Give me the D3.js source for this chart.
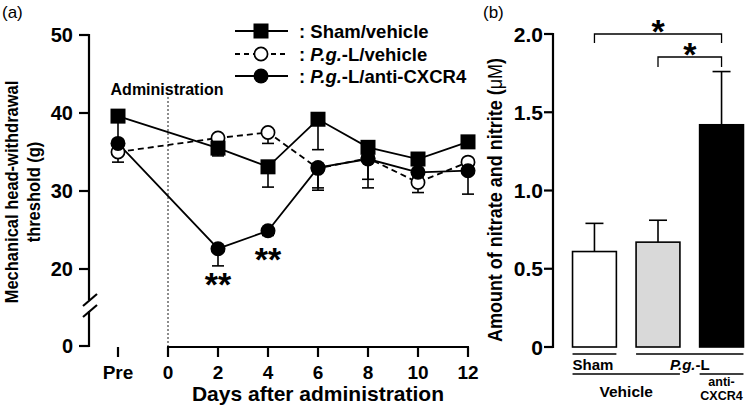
<!DOCTYPE html>
<html><head><meta charset="utf-8">
<script src="https://cdn.jsdelivr.net/npm/d3@7"></script>
<style>
body{margin:0;background:#fff;}
svg text{font-family:"Liberation Sans",Arial,sans-serif;}
</style></head>
<body><svg id="c" width="749" height="409"></svg>
<script>
// ---- Panel (a) data ----
const days = [-2, 2, 4, 6, 8, 10, 12];
const xTickValues = [-2, 0, 2, 4, 6, 8, 10, 12];
const xTickLabels = ["Pre", "0", "2", "4", "6", "8", "10", "12"];
const yTickValues = [0, 20, 30, 40, 50];
const shamVehicle = [39.6, 35.5, 33.1, 39.2, 35.6, 34.1, 36.3];
const shamVehicleErr = [3.3, 1.0, 2.6, 3.9, 0.5, 0.5, 0.5];
const pgVehicle = [35.0, 36.8, 37.5, 32.9, 34.2, 31.1, 33.7];
const pgVehicleErr = [1.3, 0.5, 1.4, 2.8, 3.8, 1.3, 0.6];
const pgAntiCXCR4 = [36.1, 22.6, 24.9, 33.0, 34.1, 32.4, 32.6];
const pgAntiCXCR4Err = [0.6, 2.2, 0.6, 2.6, 2.6, 0.6, 3.0];

// ---- Panel (b) data ----
const groups = ["Sham", "PgVehicle", "PgAnti"];
const nitrite = [0.61, 0.67, 1.42];
const nitriteErr = [0.18, 0.14, 0.34];
const yTicksB = [0, 0.5, 1.0, 1.5, 2.0];
const yTickLabelsB = ["0", "0.5", "1.0", "1.5", "2.0"];
const barFills = ["#ffffff", "#d9d9d9", "#000000"];

const svg = d3.select("#c");

// ================= Panel (a) =================
const x = d3.scaleLinear().domain([-2, 12]).range([118, 468]);
const y = d3.scaleLinear().domain([0, 20, 50]).range([346, 269, 35]);
const ga = svg.append("g");

ga.append("text").attr("x", 2).attr("y", 18).attr("font-size", 17).text("(a)");

// y axis with break
const axX = 89;
ga.append("line").attr("x1", axX).attr("x2", axX).attr("y1", y(50) - 1).attr("y2", 300).attr("stroke", "#000").attr("stroke-width", 2.2);
ga.append("line").attr("x1", axX).attr("x2", axX).attr("y1", 311).attr("y2", y(0) + 1).attr("stroke", "#000").attr("stroke-width", 2.2);
[[83, 306, 97, 294], [83, 317, 97, 305]].forEach(s => {
  ga.append("line").attr("x1", s[0]).attr("y1", s[1]).attr("x2", s[2]).attr("y2", s[3]).attr("stroke", "#000").attr("stroke-width", 2.2);
});
yTickValues.forEach(v => {
  ga.append("line").attr("x1", axX - 10).attr("x2", axX).attr("y1", y(v)).attr("y2", y(v)).attr("stroke", "#000").attr("stroke-width", 2.2);
  ga.append("text").attr("x", axX - 16).attr("y", y(v)).attr("dy", "0.36em").attr("text-anchor", "end")
    .attr("font-size", 20).attr("font-weight", "bold").text(v);
});
ga.append("text").attr("transform", "translate(18,192) scale(1.12,1) rotate(-90)").attr("text-anchor", "middle")
  .attr("font-size", 16.5).attr("font-weight", "bold").text("Mechanical head-withdrawal");
ga.append("text").attr("transform", "translate(40,192) scale(1.12,1) rotate(-90)").attr("text-anchor", "middle")
  .attr("font-size", 16.5).attr("font-weight", "bold").text("threshold (g)");

// x axis
ga.append("line").attr("x1", x(0) - 1).attr("x2", x(12) + 1).attr("y1", 347).attr("y2", 347).attr("stroke", "#000").attr("stroke-width", 2.2);
xTickValues.forEach((v, i) => {
  ga.append("line").attr("x1", x(v)).attr("x2", x(v)).attr("y1", 347).attr("y2", 357).attr("stroke", "#000").attr("stroke-width", 2.2);
  ga.append("text").attr("x", x(v)).attr("y", 379).attr("text-anchor", "middle")
    .attr("font-size", 19).attr("font-weight", "bold").text(xTickLabels[i]);
});
ga.append("text").attr("x", 318).attr("y", 401).attr("text-anchor", "middle")
  .attr("font-size", 21).attr("font-weight", "bold").text("Days after administration");

// administration line
ga.append("line").attr("x1", x(0)).attr("x2", x(0)).attr("y1", 97).attr("y2", 347).attr("stroke", "#000").attr("stroke-width", 0.9).attr("stroke-dasharray", "2,2");
ga.append("text").attr("x", 167).attr("y", 95).attr("text-anchor", "middle").attr("font-size", 16).attr("font-weight", "bold").text("Administration");

const series = [
  {vals: pgVehicle, err: pgVehicleErr, marker: "open", dash: "6,4"},
  {vals: pgAntiCXCR4, err: pgAntiCXCR4Err, marker: "filled", dash: null},
  {vals: shamVehicle, err: shamVehicleErr, marker: "square", dash: null}
];
const line = d3.line().x(d => x(d[0])).y(d => y(d[1]));
series.forEach(s => {
  const pts = days.map((d, i) => [d, s.vals[i], s.err[i]]);
  pts.forEach(p => {
    ga.append("line").attr("x1", x(p[0])).attr("x2", x(p[0])).attr("y1", y(p[1])).attr("y2", y(p[1] - p[2])).attr("stroke", "#000").attr("stroke-width", 1.6);
    ga.append("line").attr("x1", x(p[0]) - 6).attr("x2", x(p[0]) + 6).attr("y1", y(p[1] - p[2])).attr("y2", y(p[1] - p[2])).attr("stroke", "#000").attr("stroke-width", 1.6);
  });
  ga.append("path").attr("d", line(pts)).attr("fill", "none").attr("stroke", "#000").attr("stroke-width", 1.8)
    .attr("stroke-dasharray", s.dash);
});
function marker(g, type, cx, cy) {
  if (type === "square") g.append("rect").attr("x", cx - 7.5).attr("y", cy - 7.5).attr("width", 15).attr("height", 15).attr("fill", "#000");
  else if (type === "filled") g.append("circle").attr("cx", cx).attr("cy", cy).attr("r", 7.5).attr("fill", "#000");
  else g.append("circle").attr("cx", cx).attr("cy", cy).attr("r", 6.6).attr("fill", "#fff").attr("stroke", "#000").attr("stroke-width", 1.7);
}
series.forEach(s => days.forEach((d, i) => marker(ga, s.marker, x(d), y(s.vals[i]))));

// significance
ga.append("text").attr("x", x(2)).attr("y", 296).attr("text-anchor", "middle").attr("font-family", "DejaVu Sans").attr("font-size", 34).attr("font-weight", "bold").text("**");
ga.append("text").attr("x", x(4)).attr("y", 271).attr("text-anchor", "middle").attr("font-family", "DejaVu Sans").attr("font-size", 34).attr("font-weight", "bold").text("**");

// legend
const legRows = [
  {y: 31, marker: "square", dash: null, parts: [[": Sham/vehicle", false]]},
  {y: 54, marker: "open", dash: "5,4", parts: [[": ", false], ["P.g.", true], ["-L/vehicle", false]]},
  {y: 76, marker: "filled", dash: null, parts: [[": ", false], ["P.g.", true], ["-L/anti-CXCR4", false]]}
];
legRows.forEach(r => {
  ga.append("line").attr("x1", 235).attr("x2", 288).attr("y1", r.y).attr("y2", r.y).attr("stroke", "#000").attr("stroke-width", 1.8).attr("stroke-dasharray", r.dash);
  marker(ga, r.marker, 261, r.y);
  const t = ga.append("text").attr("x", 299).attr("y", r.y).attr("dy", "0.36em").attr("font-size", 18.5).attr("font-weight", "bold");
  r.parts.forEach(p => t.append("tspan").attr("font-style", p[1] ? "italic" : null).text(p[0]));
});

// ================= Panel (b) =================
const gb = svg.append("g");
const xb = d3.scaleBand().domain(groups).range([563, 753]).paddingInner(0.31).paddingOuter(0.15);
const yb = d3.scaleLinear().domain([0, 2]).range([347, 34]);
gb.append("text").attr("x", 483).attr("y", 18).attr("font-size", 17).text("(b)");

const bx = 553;
gb.append("line").attr("x1", bx).attr("x2", bx).attr("y1", yb(2) - 1).attr("y2", yb(0) + 1).attr("stroke", "#000").attr("stroke-width", 2.2);
yTicksB.forEach((v, i) => {
  gb.append("line").attr("x1", bx - 9).attr("x2", bx).attr("y1", yb(v)).attr("y2", yb(v)).attr("stroke", "#000").attr("stroke-width", 2.2);
  gb.append("text").attr("x", bx - 10).attr("y", yb(v)).attr("dy", "0.36em").attr("text-anchor", "end")
    .attr("font-size", 21).attr("font-weight", "bold").text(yTickLabelsB[i]);
});
const ttl = gb.append("text").attr("transform", "translate(502,200) scale(1.1,1) rotate(-90)").attr("text-anchor", "middle")
  .attr("font-size", 18).attr("font-weight", "bold");
ttl.append("tspan").text("Amount of nitrate and nitrite (");
ttl.append("tspan").attr("font-weight", "normal").text("μM");
ttl.append("tspan").text(")");

groups.forEach((g, i) => {
  const cx = xb(g) + xb.bandwidth() / 2;
  gb.append("line").attr("x1", cx).attr("x2", cx).attr("y1", yb(nitrite[i])).attr("y2", yb(nitrite[i] + nitriteErr[i])).attr("stroke", "#000").attr("stroke-width", 1.6);
  gb.append("line").attr("x1", cx - 9).attr("x2", cx + 9).attr("y1", yb(nitrite[i] + nitriteErr[i])).attr("y2", yb(nitrite[i] + nitriteErr[i])).attr("stroke", "#000").attr("stroke-width", 1.6);
  gb.append("rect").attr("x", xb(g)).attr("y", yb(nitrite[i])).attr("width", xb.bandwidth()).attr("height", yb(0) - yb(nitrite[i]))
    .attr("fill", barFills[i]).attr("stroke", "#000").attr("stroke-width", 1.6);
});
// brackets
function bracket(g1, g2, yTop, yDown) {
  const x1 = xb(g1) + xb.bandwidth() / 2, x2 = xb(g2) + xb.bandwidth() / 2;
  gb.append("path").attr("d", `M${x1},${yDown}V${yTop}H${x2}V${yDown}`).attr("fill", "none").attr("stroke", "#000").attr("stroke-width", 1.3);
  gb.append("text").attr("x", (x1 + x2) / 2).attr("y", yTop + 9).attr("text-anchor", "middle").attr("font-family", "DejaVu Sans").attr("font-size", 34).attr("font-weight", "bold").text("*");
}
bracket("Sham", "PgAnti", 34, 43);
bracket("PgVehicle", "PgAnti", 57, 67);

// group labels under bars
const L = (x1, x2, yy) => gb.append("line").attr("x1", x1).attr("x2", x2).attr("y1", yy).attr("y2", yy).attr("stroke", "#000").attr("stroke-width", 1.3);
const bl = g => xb(g), br = g => xb(g) + xb.bandwidth();
L(bl("Sham"), br("Sham"), 354);
L(bl("PgVehicle"), br("PgAnti"), 354);
L(bl("Sham"), br("PgVehicle"), 374);
L(bl("PgAnti"), br("PgAnti"), 374);
gb.append("text").attr("x", bl("Sham")).attr("y", 370).attr("font-size", 15).attr("font-weight", "bold").text("Sham");
const pgl = gb.append("text").attr("x", (br("PgVehicle") + bl("PgAnti")) / 2).attr("y", 370).attr("text-anchor", "middle").attr("font-size", 15).attr("font-weight", "bold");
pgl.append("tspan").attr("font-style", "italic").text("P.g.");
pgl.append("tspan").text("-L");
gb.append("text").attr("x", (bl("Sham") + br("PgVehicle")) / 2).attr("y", 397).attr("text-anchor", "middle").attr("font-size", 15.5).attr("font-weight", "bold").text("Vehicle");
const cxA = xb("PgAnti") + xb.bandwidth() / 2;
gb.append("text").attr("x", cxA).attr("y", 386).attr("text-anchor", "middle").attr("font-size", 12.5).attr("font-weight", "bold").text("anti-");
gb.append("text").attr("x", cxA).attr("y", 400).attr("text-anchor", "middle").attr("font-size", 12.5).attr("font-weight", "bold").text("CXCR4");
</script></body></html>
